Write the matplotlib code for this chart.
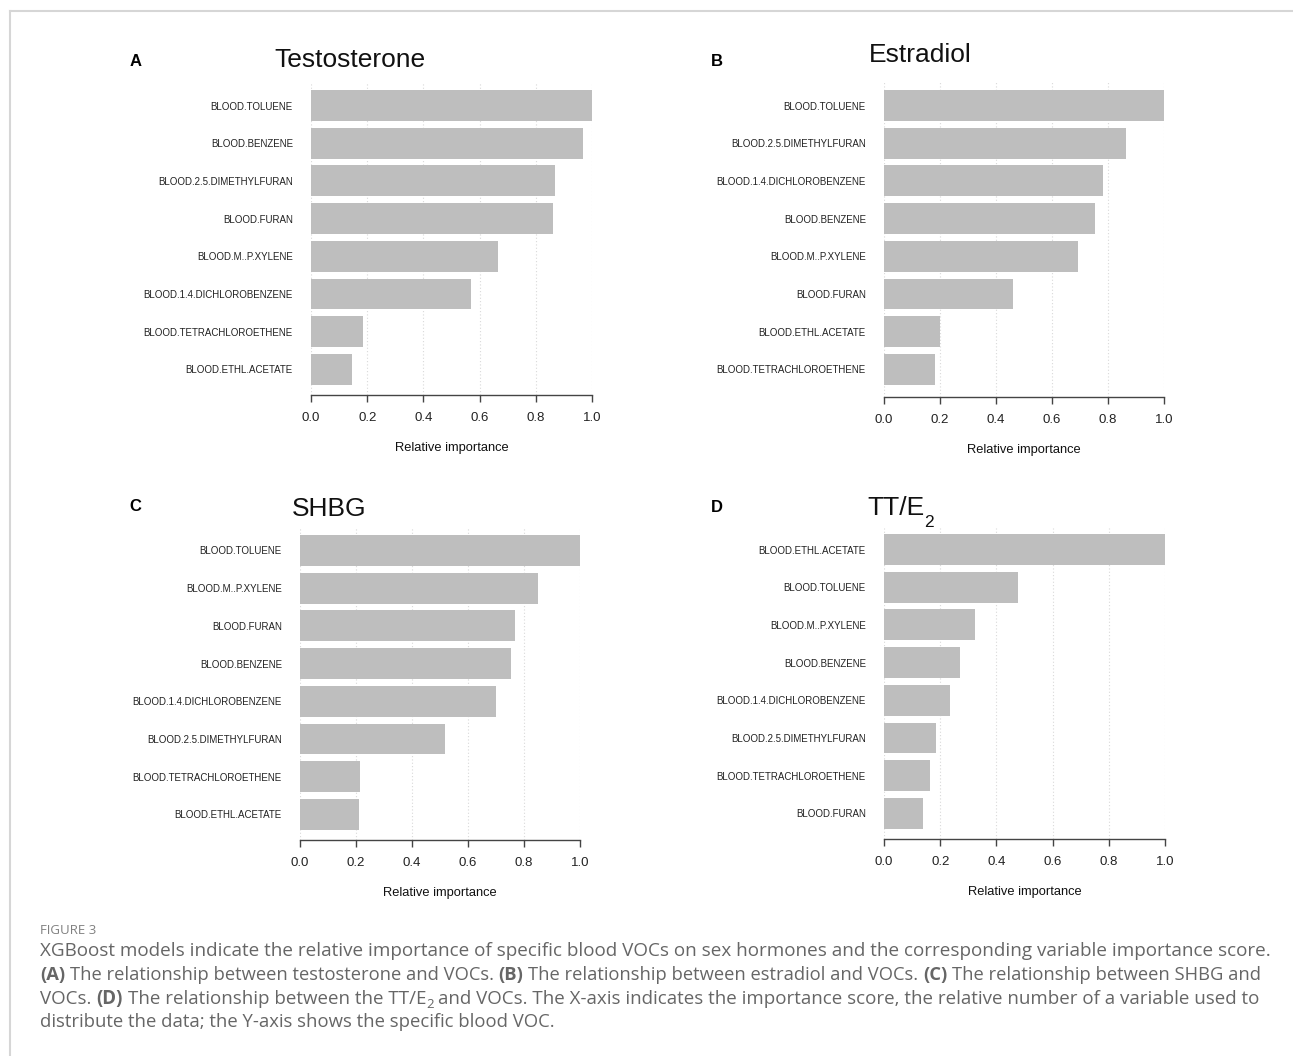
import matplotlib
matplotlib.use("Agg")
import matplotlib.pyplot as plt
from matplotlib.lines import Line2D
import numpy as np

plt.rcParams["font.family"] = ["Liberation Sans", "DejaVu Sans"]

# variable importance, listed from the top bar down
testo_vars = ["BLOOD.TOLUENE", "BLOOD.BENZENE", "BLOOD.2.5.DIMETHYLFURAN", "BLOOD.FURAN",
              "BLOOD.M..P.XYLENE", "BLOOD.1.4.DICHLOROBENZENE", "BLOOD.TETRACHLOROETHENE",
              "BLOOD.ETHL.ACETATE"]
testo_imp = [1.0, 0.968, 0.868, 0.860, 0.664, 0.569, 0.186, 0.146]

estra_vars = ["BLOOD.TOLUENE", "BLOOD.2.5.DIMETHYLFURAN", "BLOOD.1.4.DICHLOROBENZENE",
              "BLOOD.BENZENE", "BLOOD.M..P.XYLENE", "BLOOD.FURAN", "BLOOD.ETHL.ACETATE",
              "BLOOD.TETRACHLOROETHENE"]
estra_imp = [1.0, 0.864, 0.782, 0.754, 0.693, 0.461, 0.200, 0.182]

shbg_vars = ["BLOOD.TOLUENE", "BLOOD.M..P.XYLENE", "BLOOD.FURAN", "BLOOD.BENZENE",
             "BLOOD.1.4.DICHLOROBENZENE", "BLOOD.2.5.DIMETHYLFURAN", "BLOOD.TETRACHLOROETHENE",
             "BLOOD.ETHL.ACETATE"]
shbg_imp = [1.0, 0.850, 0.768, 0.754, 0.700, 0.518, 0.214, 0.210]

ratio_vars = ["BLOOD.ETHL.ACETATE", "BLOOD.TOLUENE", "BLOOD.M..P.XYLENE", "BLOOD.BENZENE",
              "BLOOD.1.4.DICHLOROBENZENE", "BLOOD.2.5.DIMETHYLFURAN", "BLOOD.TETRACHLOROETHENE",
              "BLOOD.FURAN"]
ratio_imp = [1.0, 0.476, 0.323, 0.269, 0.236, 0.186, 0.163, 0.139]

xticks = [0.0, 0.2, 0.4, 0.6, 0.8, 1.0]

W, H = 1293, 1056
fig = plt.figure(figsize=(W / 100, H / 100), dpi=100)
renderer = fig.canvas.get_renderer()


def fx(px):
    return px / W


def fy(py):
    return 1 - py / H


# thin frame on top and left edges
fig.add_artist(Line2D([fx(10), 1], [fy(11), fy(11)], color="#d6d6d6", lw=1.5))
fig.add_artist(Line2D([fx(10), fx(10)], [fy(11), 0], color="#d6d6d6", lw=1.5))

step = 37.7  # px between bars


def panel(letter, letter_x, names, vals, left, right, grid_top, axis_y, first_c):
    ax = fig.add_axes([fx(left), fy(axis_y), (right - left) / W, (axis_y - grid_top) / H])
    n = len(names)
    y = np.arange(n)
    ax.set_ylim(n - 1 + (axis_y - (first_c + (n - 1) * step)) / step,
                -(first_c - grid_top) / step)
    ax.set_xlim(0, 1)
    for t in xticks:
        ax.axvline(t, color="#d9d9d9", lw=0.8, ls=(0, (1, 2)), zorder=0)
    ax.barh(y, vals, height=0.82, color="#bebebe", edgecolor="none", zorder=2)
    ax.set_yticks(y)
    ax.set_yticklabels(names, fontsize=7, color="#222222")
    ax.tick_params(axis="y", length=0, pad=13)
    ax.set_xticks(xticks)
    ax.set_xticklabels([f"{t:.1f}" for t in xticks], fontsize=9.5, color="#222222")
    ax.tick_params(axis="x", length=5, width=1, color="#444444", pad=7.5)
    for s in ["top", "right", "left"]:
        ax.spines[s].set_visible(False)
    ax.spines["bottom"].set_bounds(0, 1)
    ax.spines["bottom"].set_color("#444444")
    ax.spines["bottom"].set_linewidth(1)
    ax.patch.set_alpha(0)
    fig.text(fx((left + right) / 2), fy(axis_y + 53), "Relative importance",
             fontsize=9.3, ha="center", va="center", color="#111111")
    fig.text(fx(letter_x), fy(grid_top - 21), letter,
             fontsize=12, fontweight="bold", ha="left", va="center")
    return ax


def title(x, y, s, sub=None):
    t = fig.text(fx(x), fy(y), s, fontsize=19, ha="center" if sub is None else "left",
                 va="center", color="#111111")
    if sub is not None:
        x1 = t.get_window_extent(renderer).x1
        fig.text(fx(x1), fy(y + 14), sub, fontsize=12.5, ha="left", va="center",
                 color="#111111")


panel("A", 130, testo_vars, testo_imp, 311, 592, 82, 395, 105.5)
panel("B", 711, estra_vars, estra_imp, 884, 1164, 82, 397, 105.5)
panel("C", 129, shbg_vars, shbg_imp, 300, 580, 527, 840, 550.5)
panel("D", 711, ratio_vars, ratio_imp, 884, 1165, 528, 839, 549.5)

title(350, 60, "Testosterone")
title(920, 55, "Estradiol")
title(329, 509, "SHBG")
title(867, 508, "TT/E", sub="2")

# caption below the panels
cap_font = ["Open Sans", "DejaVu Sans"]
cap_color = "#666666"


def text_width(s, size, weight="normal"):
    t = fig.text(0, 0, s, fontsize=size, fontweight=weight, family=cap_font)
    w = t.get_window_extent(renderer).width
    t.remove()
    return w


def draw_runs(x, ypx, runs, size, keep=True):
    space_w = text_width("x x", size) - text_width("xx", size)
    x0 = x
    made = []
    for s, bold, sub in runs:
        while s.startswith(" "):
            x += space_w
            s = s[1:]
        trail = len(s) - len(s.rstrip(" "))
        s = s.rstrip(" ")
        fs = size * 0.7 if sub else size
        dy = 5 if sub else 0
        t = fig.text(fx(x), fy(ypx + dy), s, fontsize=fs,
                     fontweight="bold" if bold else "normal", family=cap_font,
                     color=cap_color, ha="left", va="center")
        made.append(t)
        x = t.get_window_extent(renderer).x1 + trail * space_w
    if not keep:
        for t in made:
            t.remove()
    return x - x0


def caption_line(ypx, runs, width):
    # set each line to the width it takes in the typeset caption
    w = draw_runs(40, ypx, runs, 12, keep=False)
    draw_runs(40, ypx, runs, 12 * width / w)


caption_line(951, [("XGBoost models indicate the relative importance of specific blood VOCs "
                    "on sex hormones and the corresponding variable importance score.",
                    False, False)], 1223)
caption_line(975, [("(A)", True, False),
                   (" The relationship between testosterone and VOCs. ", False, False),
                   ("(B)", True, False),
                   (" The relationship between estradiol and VOCs. ", False, False),
                   ("(C)", True, False),
                   (" The relationship between SHBG and", False, False)], 1215)
caption_line(999, [("VOCs. ", False, False),
                   ("(D)", True, False),
                   (" The relationship between the TT/E", False, False),
                   ("2", False, True),
                   (" and VOCs. The X-axis indicates the importance score, the relative "
                    "number of a variable used to", False, False)], 1213)
caption_line(1022, [("distribute the data; the Y-axis shows the specific blood VOC.",
                     False, False)], 513)
fig.text(fx(40), fy(930), "FIGURE 3", fontsize=9.5, family=cap_font,
         color="#808080", ha="left", va="center")

fig.savefig("out.png", dpi=100)
